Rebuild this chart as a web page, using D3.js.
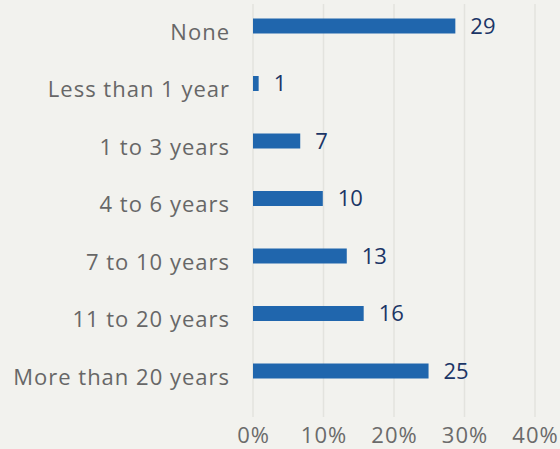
<!DOCTYPE html>
<html>
<head>
<meta charset="utf-8">
<script src="https://cdn.jsdelivr.net/npm/d3@7"></script>
<style>
  html, body { margin: 0; padding: 0; background: #f2f2ee; }
  svg { display: block; }
  text { font-family: "Open Sans", Lato, sans-serif; }
</style>
</head>
<body>
<svg id="chart" width="560" height="449"></svg>
<script>
const categories = ["None", "Less than 1 year", "1 to 3 years", "4 to 6 years", "7 to 10 years", "11 to 20 years", "More than 20 years"];
const values = [28.7, 0.8, 6.7, 9.9, 13.3, 15.7, 24.9];
const valueLabels = ["29", "1", "7", "10", "13", "16", "25"];
const tickValues = [0, 10, 20, 30, 40];
const tickLabels = ["0%", "10%", "20%", "30%", "40%"];

const svg = d3.select("#chart");
svg.append("rect").attr("width", 560).attr("height", 449).attr("fill", "#f2f2ee");

const x = d3.scaleLinear().domain([0, 40]).range([253, 535]);
const y = d3.scalePoint().domain(categories).range([26, 371]);
const barH = 15;

// gridlines
svg.append("g").selectAll("line").data(tickValues).join("line")
  .attr("x1", d => x(d)).attr("x2", d => x(d))
  .attr("y1", 4).attr("y2", 417)
  .attr("stroke", "#e3e3de").attr("stroke-width", 1.5);

// axis tick labels
const xAxis = d3.axisBottom(x).tickValues(tickValues)
  .tickFormat((d, i) => tickLabels[i]).tickSize(0).tickPadding(0);
const gx = svg.append("g").attr("transform", "translate(0,427)").call(xAxis);
gx.select(".domain").remove();
gx.selectAll("text").attr("fill", "#6b6b6b").attr("font-size", 22)
  .attr("dy", "0.72em")
  .attr("letter-spacing", 1.0)
  .attr("font-family", "'Open Sans', Lato, sans-serif");

// bars
svg.append("g").selectAll("rect").data(categories).join("rect")
  .attr("x", x(0))
  .attr("y", c => y(c) - barH / 2)
  .attr("width", (c, i) => x(values[i]) - x(0))
  .attr("height", barH)
  .attr("fill", "#2066ad");

// value labels
svg.append("g").selectAll("text").data(categories).join("text")
  .attr("x", (c, i) => x(values[i]) + 15)
  .attr("y", c => y(c))
  .attr("dy", "0.36em")
  .attr("fill", "#1b3566")
  .attr("font-size", 22)
  .text((c, i) => valueLabels[i]);

// category labels
svg.append("g").selectAll("text").data(categories).join("text")
  .attr("x", 230)
  .attr("y", c => y(c) + 6)
  .attr("dy", "0.36em")
  .attr("text-anchor", "end")
  .attr("fill", "#676767")
  .attr("font-size", 22)
  .attr("letter-spacing", 1.0)
  .text(c => c);
</script>
</body>
</html>
